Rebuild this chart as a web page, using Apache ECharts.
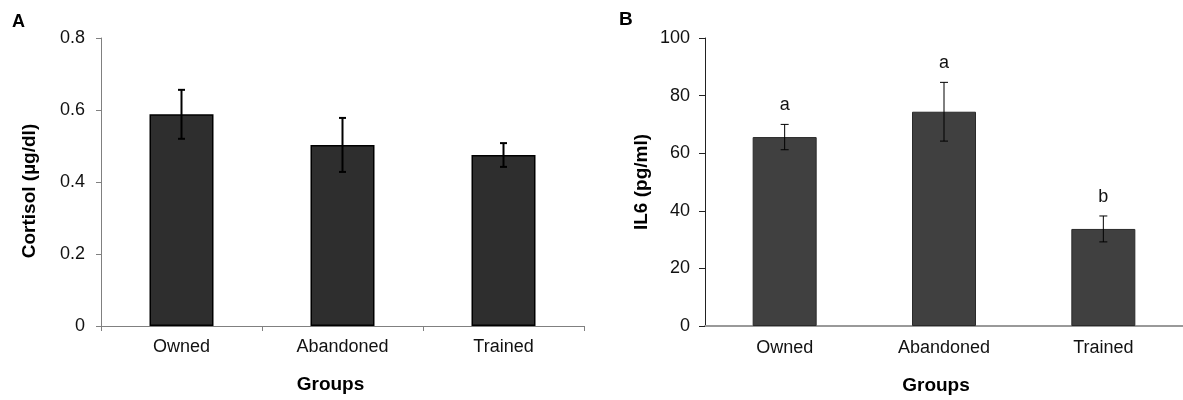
<!DOCTYPE html>
<html>
<head>
<meta charset="utf-8">
<script src="https://cdn.jsdelivr.net/npm/echarts@6/dist/echarts.min.js"></script>
<style>
html,body{margin:0;padding:0;background:#fff;}
#chart{width:1183px;height:400px;}
</style>
</head>
<body>
<div id="chart"></div>
<script>
const groups = ['Owned', 'Abandoned', 'Trained'];
const cortisolMean = [0.588, 0.503, 0.475];
const cortisolSE = [0.068, 0.075, 0.033];
const il6Mean = [65.6, 74.4, 33.7];
const il6SE = [4.4, 10.2, 4.5];
const il6Letters = ['a', 'a', 'b'];
const cortisolTicks = [0, 0.2, 0.4, 0.6, 0.8];
const il6Ticks = [0, 20, 40, 60, 80, 100];

const FONT = '"Liberation Sans", Arial, sans-serif';

function errRender(lineWidth, capHalf, letters) {
  return function (params, api) {
    const x = api.value(0);
    const m = api.value(1);
    const se = api.value(2);
    const hi = api.coord([x, m + se]);
    const lo = api.coord([x, m - se]);
    const st = { stroke: '#000', lineWidth: lineWidth };
    const children = [
      { type: 'line', shape: { x1: hi[0], y1: hi[1], x2: lo[0], y2: lo[1] }, style: st },
      { type: 'line', shape: { x1: hi[0] - capHalf, y1: hi[1], x2: hi[0] + capHalf, y2: hi[1] }, style: st },
      { type: 'line', shape: { x1: lo[0] - capHalf, y1: lo[1], x2: lo[0] + capHalf, y2: lo[1] }, style: st }
    ];
    if (letters) {
      children.push({
        type: 'text',
        style: {
          x: hi[0], y: hi[1] - 10, text: letters[params.dataIndex],
          align: 'center', verticalAlign: 'bottom',
          font: '18px ' + FONT, fill: '#111'
        }
      });
    }
    return { type: 'group', children: children };
  };
}

const chart = echarts.init(document.getElementById('chart'), null, { renderer: 'canvas' });

const tickLabel = { fontFamily: FONT, fontSize: 18, color: '#111' };

chart.setOption({
  animation: false,
  backgroundColor: '#fff',
  title: [
    { text: 'A', left: 12, top: 13, padding: 0, textStyle: { fontFamily: FONT, fontSize: 18, fontWeight: 'bold', color: '#000' } },
    { text: 'B', left: 619, top: 10, padding: 0, textStyle: { fontFamily: FONT, fontSize: 19, fontWeight: 'bold', color: '#000' } }
  ],
  grid: [
    { left: 101, top: 38, width: 483, height: 288 },
    { left: 705, top: 38, width: 480, height: 291 }
  ],
  xAxis: [
    {
      type: 'category', gridIndex: 0, data: groups,
      axisLine: { lineStyle: { color: '#808080', width: 1 } },
      axisTick: { show: true, length: 5, lineStyle: { color: '#808080' } },
      axisLabel: Object.assign({ margin: 12 }, tickLabel),
      name: 'Groups', nameLocation: 'middle', nameGap: 49,
      nameTextStyle: { fontFamily: FONT, fontSize: 19, fontWeight: 'bold', color: '#000', padding: [0, 24, 0, 0] }
    },
    {
      type: 'category', gridIndex: 1, data: groups,
      axisLine: { lineStyle: { color: '#999', width: 2 } },
      axisTick: { show: false },
      axisLabel: Object.assign({ margin: 13 }, tickLabel),
      name: 'Groups', nameLocation: 'middle', nameGap: 50,
      nameTextStyle: { fontFamily: FONT, fontSize: 19, fontWeight: 'bold', color: '#000', padding: [0, 16, 0, 0] }
    }
  ],
  yAxis: [
    {
      type: 'value', gridIndex: 0,
      min: cortisolTicks[0], max: cortisolTicks[cortisolTicks.length - 1],
      interval: cortisolTicks[1] - cortisolTicks[0],
      splitLine: { show: false },
      axisLine: { show: true, lineStyle: { color: '#808080', width: 1 } },
      axisTick: { show: true, length: 5, lineStyle: { color: '#808080' } },
      axisLabel: Object.assign({ margin: 16 }, tickLabel),
      name: 'Cortisol (µg/dl)', nameLocation: 'middle', nameGap: 62,
      nameTextStyle: { fontFamily: FONT, fontSize: 19, fontWeight: 'bold', color: '#000', padding: [0, 18, 0, 0] }
    },
    {
      type: 'value', gridIndex: 1,
      min: il6Ticks[0], max: il6Ticks[il6Ticks.length - 1],
      interval: il6Ticks[1] - il6Ticks[0],
      splitLine: { show: false },
      axisLine: { show: true, lineStyle: { color: '#222', width: 1 } },
      axisTick: { show: true, length: 6, lineStyle: { color: '#222' } },
      axisLabel: Object.assign({ margin: 15 }, tickLabel),
      name: 'IL6 (pg/ml)', nameLocation: 'middle', nameGap: 54,
      nameTextStyle: { fontFamily: FONT, fontSize: 19, fontWeight: 'bold', color: '#000' }
    }
  ],
  series: [
    {
      type: 'bar', xAxisIndex: 0, yAxisIndex: 0, data: cortisolMean, barWidth: 64,
      itemStyle: { color: '#2e2e2e', borderColor: '#000', borderWidth: 1.5 }
    },
    {
      type: 'custom', xAxisIndex: 0, yAxisIndex: 0, z: 5,
      data: groups.map((g, i) => [i, cortisolMean[i], cortisolSE[i]]),
      encode: { x: 0, y: 1 },
      renderItem: errRender(2, 3.5, null)
    },
    {
      type: 'bar', xAxisIndex: 1, yAxisIndex: 1, data: il6Mean, barWidth: 64,
      itemStyle: { color: '#404040', borderColor: '#2a2a2a', borderWidth: 1 }
    },
    {
      type: 'custom', xAxisIndex: 1, yAxisIndex: 1, z: 5,
      data: groups.map((g, i) => [i, il6Mean[i], il6SE[i]]),
      encode: { x: 0, y: 1 },
      renderItem: errRender(1, 4, il6Letters)
    }
  ]
});
</script>
</body>
</html>
